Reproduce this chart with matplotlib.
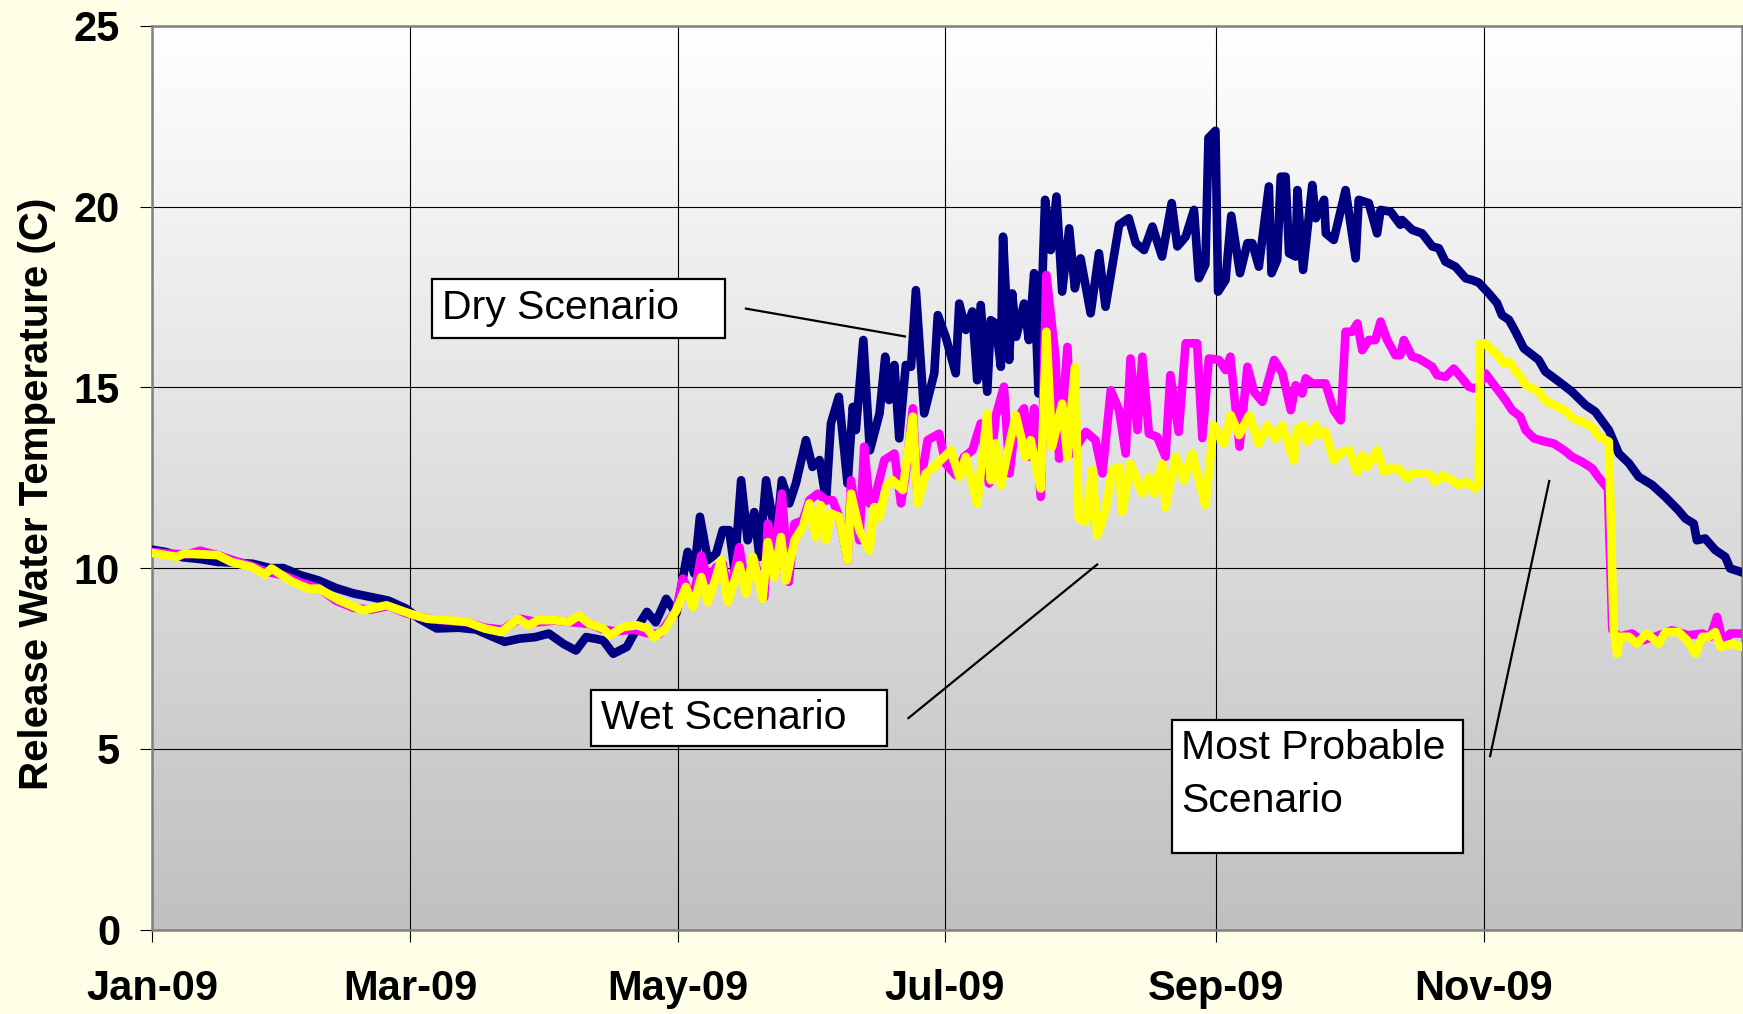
import matplotlib

matplotlib.use("Agg")
import matplotlib.pyplot as plt
import numpy as np
from matplotlib.colors import LinearSegmentedColormap
from matplotlib.patches import Rectangle

# (day of 2009, release water temperature C)
dry = [
    (0, 10.51), (3, 10.45), (7, 10.3), (11, 10.25), (15, 10.17), (19, 10.15), (23, 10.12),
    (27, 10.0), (30, 10.0), (34, 9.8), (38, 9.66), (42, 9.45), (46, 9.3), (50, 9.2),
    (54, 9.1), (58, 8.88), (61, 8.6), (65, 8.33), (70, 8.35), (74, 8.3), (77, 8.14),
    (80.5, 7.96), (84, 8.05), (87.5, 8.09), (90.6, 8.19), (94, 7.9), (96.8, 7.72),
    (99.1, 8.09), (101, 8.05), (103, 8.0), (105.3, 7.63), (108.4, 7.82), (111, 8.4),
    (113, 8.79), (115, 8.5), (117.4, 9.15), (119.7, 8.74), (122.3, 10.45), (123.8, 9.85),
    (125.1, 11.42), (126.9, 10.22), (128.8, 10.4), (130.3, 11.05), (131.8, 11.05),
    (133, 9.94), (134.5, 12.43), (136, 10.77), (137.5, 11.55), (138.7, 10.31),
    (140.2, 12.43), (142.5, 10.77), (143.8, 12.43), (145.5, 11.79), (147, 12.34),
    (149.3, 13.54), (150.8, 12.8), (152.4, 12.99), (153.9, 11.88), (155, 14.0),
    (156.8, 14.74), (158.8, 12.34), (160, 14.46), (160.7, 13.82), (162.4, 16.31),
    (163.9, 13.26), (166.1, 14.28), (167.4, 15.85), (168.3, 14.65), (169.5, 15.62),
    (170.6, 13.59), (172.1, 15.62), (173.3, 15.57), (174.4, 17.69), (176.3, 14.28),
    (178.6, 15.39), (179.4, 17.0), (181.2, 16.4), (183.5, 15.39), (184.3, 17.32),
    (185.8, 16.59), (187.3, 17.1), (188.4, 15.2), (189.2, 17.28), (190.7, 14.88),
    (191.5, 16.86), (192.6, 16.77), (193.8, 15.57), (194.3, 19.17), (195.7, 15.76),
    (196.4, 17.6), (197.3, 16.4), (199.1, 17.32), (200.2, 16.31), (201.4, 18.16),
    (202.4, 14.83), (203.9, 20.19), (205.2, 18.8), (206.5, 20.28), (207.8, 17.65),
    (209.4, 19.4), (210.7, 17.74), (212, 18.57), (214.3, 17.05), (216.2, 18.71),
    (217.7, 17.23), (220.8, 19.5), (223, 19.68), (224.6, 18.99), (226.5, 18.8),
    (228.4, 19.45), (230.6, 18.62), (232.8, 20.1), (234.1, 18.9), (236, 19.17),
    (237.9, 19.91), (239, 18.02), (240.5, 18.4), (241.2, 21.9), (242.8, 22.1),
    (243.4, 17.65), (245.1, 17.97), (246.4, 19.75), (248.4, 18.16), (250.1, 18.99),
    (251.2, 18.99), (252.7, 18.34), (255, 20.56), (255.6, 18.16), (256.9, 18.53),
    (257.7, 20.83), (258.8, 20.83), (259.6, 18.71), (261.1, 18.62), (261.5, 20.46),
    (262.8, 18.25), (264.9, 20.6), (265.7, 19.68), (267.6, 20.19), (268, 19.26),
    (269.8, 19.08), (272.5, 20.46), (274.8, 18.57), (275.5, 20.19), (277.8, 20.1),
    (279.7, 19.26), (280.5, 19.91), (282.8, 19.86), (285, 19.5), (285.4, 19.63),
    (287.7, 19.36), (290, 19.26), (292.3, 18.9), (293.8, 18.85), (295.3, 18.48),
    (297.6, 18.34), (299.9, 18.02), (301.4, 17.97), (302.9, 17.9), (305.2, 17.6),
    (307.1, 17.33), (308.2, 17.0), (309.8, 16.87), (311.3, 16.54), (313.2, 16.08),
    (316.6, 15.76), (318.1, 15.44), (321.2, 15.16), (324.2, 14.88), (327.3, 14.51),
    (329.5, 14.33), (332.6, 13.82), (334.9, 13.17), (337.2, 12.9), (339.4, 12.53),
    (342.5, 12.3), (345.5, 11.97), (348.5, 11.6), (350.1, 11.37), (352, 11.23),
    (352.7, 10.77), (354.6, 10.82), (356.9, 10.5), (359.2, 10.31), (360.3, 9.99),
    (362.6, 9.9), (363, 9.88),
]

most_probable = [
    (0, 10.45), (4, 10.4), (8, 10.38), (11, 10.48), (15, 10.36), (19, 10.2), (23, 10.05),
    (26, 9.9), (30, 9.8), (34, 9.6), (38, 9.45), (42, 9.1), (46, 8.9), (50, 8.85),
    (54, 8.95), (58, 8.75), (63, 8.6), (67, 8.55), (72, 8.5), (76, 8.35), (80, 8.3),
    (84, 8.6), (88, 8.5), (92, 8.55), (96, 8.5), (100, 8.45), (103, 8.3), (106, 8.25),
    (110, 8.3), (113, 8.2), (115.9, 8.18), (119.7, 8.83), (121.2, 9.71), (123.5, 9.11),
    (125.4, 10.35), (126.9, 9.66), (128.8, 10.03), (130.3, 10.12), (131.8, 9.2),
    (134.1, 10.58), (135.6, 9.48), (137.5, 10.22), (139.8, 9.2), (140.6, 11.23),
    (142.1, 10.22), (143.8, 12.06), (145.4, 9.62), (146.7, 11.23), (148.6, 11.32),
    (150.1, 11.88), (152, 12.06), (153.9, 11.88), (155.4, 11.88), (156.9, 11.42),
    (158.8, 10.22), (159.6, 12.43), (161.5, 10.77), (162.6, 13.36), (163.8, 11.79),
    (164.9, 11.88), (167.2, 12.99), (169.5, 13.17), (171, 11.79), (172.1, 12.62),
    (173.7, 14.42), (174.8, 11.88), (177.1, 13.54), (179.7, 13.72), (181.2, 12.89),
    (183.5, 12.57), (185.4, 13.08), (187.3, 13.26), (189.2, 14.0), (191.1, 12.34),
    (192.6, 14.19), (194.5, 15.02), (195.8, 12.62), (197.2, 14.09), (199.1, 14.42),
    (200.2, 13.08), (201.4, 14.42), (202.9, 11.97), (204.2, 18.11), (206.3, 15.8),
    (207.1, 13.03), (209, 16.12), (210.1, 13.17), (213.2, 13.77), (215.4, 13.54),
    (217, 12.62), (218.9, 14.92), (220.8, 14.37), (222.3, 13.17), (223.4, 15.8),
    (225, 13.82), (226.1, 15.85), (227.6, 13.72), (229.5, 13.63), (231.4, 13.08),
    (232.5, 15.34), (234.4, 13.77), (236, 16.22), (238.6, 16.22), (239.8, 13.6),
    (241.3, 15.8), (243.6, 15.76), (245.1, 15.48), (246.2, 15.85), (248.3, 13.36),
    (250.1, 15.57), (251.6, 14.88), (253.5, 14.6), (256.2, 15.76), (258.1, 15.39),
    (260, 14.37), (261.1, 15.06), (262.6, 14.83), (263.4, 15.25), (264.9, 15.11),
    (267.9, 15.11), (269.8, 14.37), (271.4, 14.09), (272.5, 16.54), (274, 16.54),
    (275.2, 16.77), (276.3, 16.03), (277.8, 16.31), (279.3, 16.31), (280.5, 16.82),
    (282, 16.31), (283.9, 15.89), (285, 15.89), (285.8, 16.31), (287.7, 15.85),
    (289.2, 15.8), (292.3, 15.57), (293.4, 15.34), (295.3, 15.29), (297.2, 15.52),
    (299.1, 15.25), (300.6, 15.02), (301.8, 14.97), (302.9, 15.02), (304.4, 15.39),
    (306.7, 15.02), (309, 14.65), (310.5, 14.37), (312.4, 14.19), (313.6, 13.82),
    (315.5, 13.59), (318.1, 13.5), (320, 13.45), (322.3, 13.27), (324.2, 13.08),
    (326.5, 12.94), (328.8, 12.76), (329.9, 12.57), (331.4, 12.34), (332.4, 12.2),
    (333.4, 8.3), (334.9, 8.1), (337.9, 8.19), (340.2, 8.0), (343.2, 8.1), (347, 8.28),
    (350.8, 8.14), (353.9, 8.19), (355.8, 8.1), (357.3, 8.65), (358.8, 7.87),
    (360.3, 8.19), (363, 8.19),
]

wet = [
    (0, 10.42), (5.7, 10.31), (7.3, 10.4), (11, 10.38), (15, 10.36), (18.1, 10.17),
    (22.7, 10.03), (25.8, 9.83), (27.3, 9.99), (32, 9.62), (35.8, 9.43), (38.1, 9.43),
    (42.7, 9.11), (48.1, 8.83), (53.5, 8.97), (58.9, 8.74), (62.8, 8.6), (67.4, 8.56),
    (72, 8.51), (75.9, 8.33), (79.7, 8.23), (83.6, 8.6), (85.9, 8.42), (88.2, 8.56),
    (92, 8.56), (95.2, 8.51), (97.5, 8.69), (99.8, 8.46), (103, 8.33), (104.5, 8.14),
    (107.6, 8.37), (110.7, 8.42), (113, 8.33), (114.6, 8.09), (117.2, 8.32), (119.7, 8.83),
    (121.9, 9.48), (123.5, 8.92), (125.4, 9.75), (126.9, 9.06), (128.8, 9.75),
    (129.9, 10.22), (131.5, 9.06), (134.1, 10.08), (135.6, 9.29), (137.2, 10.31),
    (139.4, 9.15), (140.6, 10.72), (142.1, 9.75), (143.6, 10.86), (144.8, 9.66),
    (146.7, 10.77), (148.6, 11.14), (150.1, 11.79), (151.6, 10.86), (152.7, 11.74),
    (153.9, 10.77), (155, 11.51), (156.9, 11.42), (158.8, 10.22), (159.6, 12.06),
    (161.5, 11.05), (163.8, 10.49), (164.9, 11.69), (166.1, 11.42), (167.6, 12.25),
    (169.1, 12.43), (171.4, 12.16), (173.7, 14.19), (174.8, 11.79), (176.7, 12.62),
    (178.6, 12.8), (180.1, 12.99), (182.4, 13.26), (184.3, 12.52), (185.8, 13.08),
    (188.4, 11.78), (190.7, 14.28), (191.5, 12.43), (192.6, 13.45), (193.8, 12.29),
    (195.3, 13.17), (197.2, 14.23), (199.5, 13.08), (200.6, 13.54), (202.9, 12.2),
    (204.2, 16.54), (205.5, 13.36), (207.8, 14.55), (209, 13.08), (210.7, 15.57),
    (211.6, 11.37), (213.2, 11.28), (214.7, 12.71), (215.8, 10.91), (217.7, 11.6),
    (219.2, 12.71), (220.8, 12.8), (221.5, 11.55), (223.4, 12.89), (226.1, 12.06),
    (227.6, 12.52), (228.7, 12.06), (230.6, 12.89), (231.4, 11.69), (233.7, 13.08),
    (235.6, 12.43), (237.5, 13.17), (240.5, 11.74), (242.4, 13.95), (244.7, 13.45),
    (246.3, 14.23), (248.2, 13.68), (250.5, 14.23), (252.7, 13.45), (254.6, 13.95),
    (256.5, 13.58), (258, 13.95), (260.7, 12.98), (261.5, 13.86), (263, 13.95),
    (263.8, 13.49), (265.7, 13.95), (266.4, 13.68), (267.9, 13.77), (269.8, 12.98),
    (271.7, 13.22), (273.3, 13.26), (275.2, 12.66), (276.3, 13.12), (277.5, 12.8),
    (279.7, 13.26), (281.3, 12.66), (282.4, 12.75), (284.7, 12.75), (286.6, 12.48),
    (287.7, 12.62), (291.5, 12.62), (293, 12.38), (294.6, 12.57), (296.1, 12.48),
    (298.4, 12.3), (299.9, 12.39), (302.2, 12.2), (302.9, 12.34), (303.2, 16.22),
    (304.4, 16.22), (307.5, 15.85), (308.6, 15.67), (309.8, 15.71), (312.4, 15.3),
    (313.6, 15.07), (316.6, 14.88), (318.1, 14.65), (320, 14.51), (321.9, 14.42),
    (324.6, 14.14), (326.5, 14.05), (328.8, 13.91), (330.3, 13.64), (332.6, 13.5),
    (333.7, 8.37), (334.5, 7.63), (335.2, 8.1), (337.2, 8.1), (339, 7.91), (341.3, 8.19),
    (344, 7.91), (345.5, 8.23), (348.5, 8.23), (350.5, 8.0), (352.4, 7.63), (353.9, 8.1),
    (355.4, 8.1), (356.9, 8.23), (358.1, 7.82), (360.7, 7.91), (363, 7.82),
]

month_days = [0, 59, 120, 181, 243, 304]
month_labels = ["Jan-09", "Mar-09", "May-09", "Jul-09", "Sep-09", "Nov-09"]
y_ticks = [0, 5, 10, 15, 20, 25]

FONT = "Liberation Sans"


def main() -> None:
    fig = plt.figure(figsize=(17.43, 10.14), dpi=100, facecolor="#FFFFE8")
    ax = fig.add_axes([0.0872, 0.0833, 0.9122, 0.8911])

    # grey-to-white backdrop like the Excel plot area
    cmap = LinearSegmentedColormap.from_list("plotarea", ["#C0C0C0", "#FFFFFF"])
    grad = np.linspace(1, 0, 256).reshape(-1, 1)
    ax.imshow(grad, cmap=cmap, extent=[0, 363, 0, 25], aspect="auto", zorder=0)

    for series, color in [(dry, "#000080"), (most_probable, "#FF00FF"), (wet, "#FFFF00")]:
        days, temps = zip(*series)
        ax.plot(days, temps, color=color, linewidth=6.2, solid_joinstyle="round",
                solid_capstyle="round", zorder=3)

    ax.set_xlim(0, 363)
    ax.set_ylim(0, 25)
    ax.set_xticks(month_days)
    ax.set_xticklabels(month_labels)
    ax.set_yticks(y_ticks)
    ax.grid(True, color="black", linewidth=0.8, zorder=1)
    ax.set_axisbelow(True)

    for lab in ax.get_xticklabels() + ax.get_yticklabels():
        lab.set_fontfamily(FONT)
        lab.set_fontweight("bold")
        lab.set_fontsize(30)
    ax.tick_params(axis="x", length=8.6, width=0.8, pad=20)
    ax.tick_params(axis="y", length=9, width=0.8, pad=14)
    for sp in ax.spines.values():
        sp.set_color("#808080")
        sp.set_linewidth(1.8)

    fig.text(0.021, 0.513, "Release Water Temperature (C)", rotation=90, ha="center",
             va="center", fontsize=29, fontweight="bold", family=FONT)

    # callout boxes: (x0, y0, x1, y1) in data units
    boxes = [(63.9, 16.38, 130.8, 18.01), (100.2, 5.08, 167.8, 6.62), (232.8, 2.12, 299.4, 5.79)]
    for x0, y0, x1, y1 in boxes:
        ax.add_patch(Rectangle((x0, y0), x1 - x0, y1 - y0, facecolor="white",
                               edgecolor="black", linewidth=1.6, zorder=5))
    tkw = dict(fontsize=29.5, family=FONT, va="center", ha="left", zorder=6)
    ax.text(66.2, 17.21, "Dry Scenario", **tkw)
    ax.text(102.4, 5.85, "Wet Scenario", **tkw)
    ax.text(235.0, 5.02, "Most Probable", **tkw)
    ax.text(235.0, 3.57, "Scenario", **tkw)

    leaders = [((135.6, 171.9), (17.18, 16.41)), ((172.7, 215.8), (5.85, 10.10)),
               ((305.5, 319.0), (4.80, 12.41))]
    for xs, ys in leaders:
        ax.plot(xs, ys, color="black", linewidth=1.6, zorder=4)

    fig.savefig("out.png", dpi=100, facecolor=fig.get_facecolor())
    plt.close(fig)


if __name__ == "__main__":
    main()
